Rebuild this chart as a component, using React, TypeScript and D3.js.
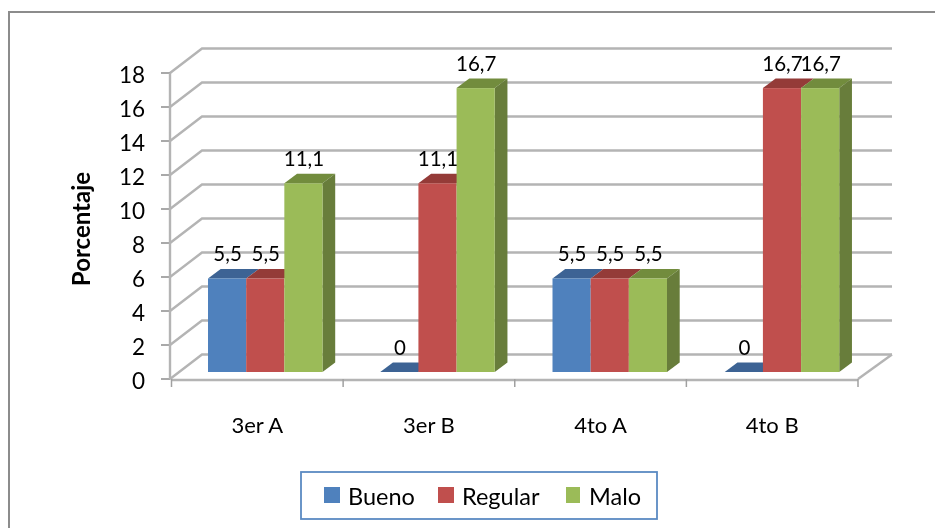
import React from "react";
import * as d3 from "d3";

const categories = ["3er A", "3er B", "4to A", "4to B"];
const seriesNames = ["Bueno", "Regular", "Malo"];
const bueno = [5.5, 0, 5.5, 0];
const regular = [5.5, 11.1, 5.5, 16.7];
const malo = [11.1, 16.7, 5.5, 16.7];
const labelsBueno = ["5,5", "0", "5,5", "0"];
const labelsRegular = ["5,5", "11,1", "5,5", "16,7"];
const labelsMalo = ["11,1", "16,7", "5,5", "16,7"];
const yTicks = [0, 2, 4, 6, 8, 10, 12, 14, 16, 18];
const fronts = ["#4f81bd", "#c0504d", "#9bbb59"];
const tops = ["#3c6494", "#943b39", "#728c3e"];
const sides = ["#3c6494", "#943b39", "#677d3a"];

const W = 935, H = 528;
const FONT = "Lato, 'Open Sans', sans-serif";
const GRID = "#b4b4b4";
const y = d3.scaleLinear().domain([0, 18]).range([379, 73]);
const x = d3.scaleBand().domain(categories).range([171.5, 858]);
const barBand = d3.scaleBand().domain(categories).range([171.5, 860.5]);
const DX = 32, DY = 24.5;
const inner = d3.scaleBand().domain(seriesNames).range([36.5, 36.5 + 114.5]);
const bx = 12.7, by = 9.5, baseLift = 7;
const seriesValues = [bueno, regular, malo];
const seriesLabels = [labelsBueno, labelsRegular, labelsMalo];
const legendSwatchX = [324, 438, 566];
const legendTextX = [348, 462, 589];

function Bars() {
  const out: React.ReactNode[] = [];
  categories.forEach((c, ci) => {
    seriesNames.forEach((s, si) => {
      const v = seriesValues[si][ci];
      const x0 = barBand(c)! + inner(s)!;
      const w = inner.bandwidth();
      const t = y(v) - baseLift;
      const b = y(0) - baseLift;
      out.push(
        <g key={c + s}>
          <path d={`M${x0},${t}L${x0 + bx},${t - by}L${x0 + w + bx},${t - by}L${x0 + w},${t}Z`} fill={tops[si]} />
          {si === 2 && (
            <path d={`M${x0 + w},${t}L${x0 + w + bx},${t - by}L${x0 + w + bx},${b - by}L${x0 + w},${b}Z`} fill={sides[si]} />
          )}
          {v > 0 && <rect x={x0} y={t} width={w} height={b - t} fill={fronts[si]} />}
        </g>
      );
    });
  });
  return <g>{out}</g>;
}

function Labels() {
  const out: React.ReactNode[] = [];
  categories.forEach((c, ci) => {
    seriesNames.forEach((s, si) => {
      const v = seriesValues[si][ci];
      out.push(
        <text key={c + s} x={barBand(c)! + inner(s)! + inner.bandwidth() / 2 + 0.5} y={y(v) - baseLift - by - 8}
          textAnchor="middle" fontSize={20.5} fill="#000">
          {seriesLabels[si][ci]}
        </text>
      );
    });
  });
  return <g>{out}</g>;
}

export default function App() {
  const x0 = 171.5, x1 = 858;
  const axisX = 170;
  return (
    <svg width={W} height={H} viewBox={`0 0 ${W} ${H}`} fontFamily={FONT}
      style={{ position: "fixed", left: 0, top: 0, background: "#fff" }}>
      <defs>
        <filter id="soft" x="-5%" y="-5%" width="110%" height="110%">
          <feGaussianBlur stdDeviation="0.45" />
        </filter>
      </defs>
      <g filter="url(#soft)">
        <path d={`M${W + 10},12H9V${H + 10}`} fill="none" stroke="#8c8c8c" strokeWidth={2} />
        {yTicks.map((t) => (
          <g key={t} fill="none" stroke={GRID} strokeWidth={2.4}>
            <path d={`M${axisX},${y(t)}L${axisX + DX},${y(t) - DY}H892`} />
            <path d={`M161,${y(t)}H${axisX}`} strokeWidth={1.8} stroke="#a0a0a0" />
          </g>
        ))}
        <path d={`M${x1},${y(0)}L892,${y(0) - DY}`} fill="none" stroke={GRID} strokeWidth={2.4} />
        <path d={`M${axisX},${y(18)}V${y(0)}`} fill="none" stroke={GRID} strokeWidth={2.4} />
        <path d={`M${x0},${y(0) + 1}H${x1}`} fill="none" stroke={GRID} strokeWidth={2.4} />
        {[...categories.map((c) => x(c)!), x1].map((p) => (
          <path key={p} d={`M${p},${y(0)}V${y(0) + 8}`} stroke="#a0a0a0" strokeWidth={1.5} fill="none" />
        ))}
        <Bars />
        <Labels />
        {yTicks.map((t) => (
          <text key={t} x={145} y={y(t) + 10} textAnchor="end" fontSize={22.5} fill="#000">{t}</text>
        ))}
        {categories.map((c) => (
          <text key={c} x={x(c)! + x.bandwidth() / 2} y={433} textAnchor="middle" fontSize={22} fill="#000">{c}</text>
        ))}
        <text transform="translate(90,229) rotate(-90)" textAnchor="middle" fontSize={24} fontWeight={700} fill="#000">Porcentaje</text>
        <rect x={301} y={472} width={356} height={47} fill="#fff" stroke="#5b8ac2" strokeWidth={1.8} />
        {seriesNames.map((s, i) => (
          <g key={s}>
            <rect x={legendSwatchX[i]} y={487} width={i === 2 ? 14 : 16} height={16} fill={fronts[i]} />
            <text x={legendTextX[i]} y={505} fontSize={23.5} fill="#000">{s}</text>
          </g>
        ))}
      </g>
    </svg>
  );
}
